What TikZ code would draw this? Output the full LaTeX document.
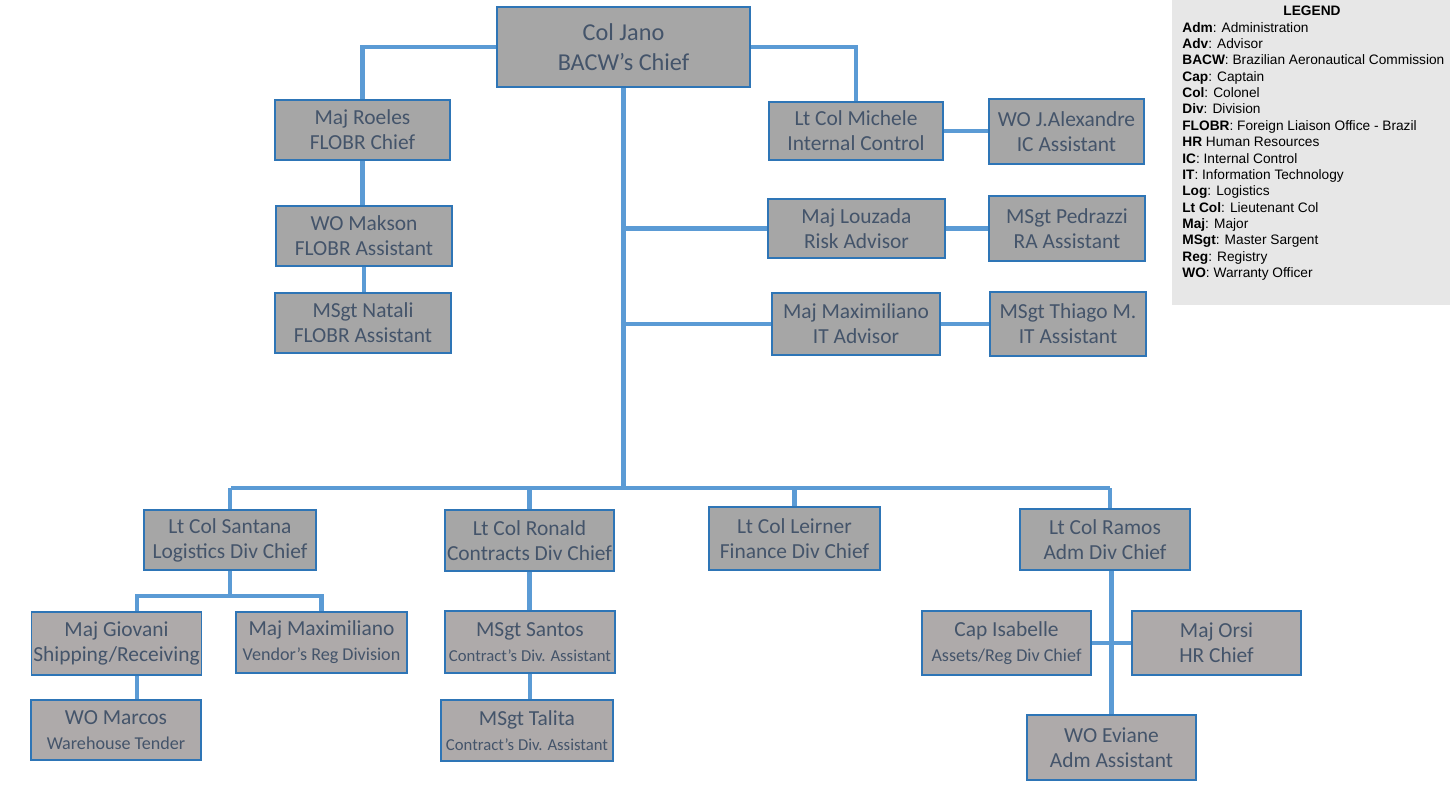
\documentclass[tikz,border=0pt]{standalone}
\usepackage{fontspec}
\setmainfont{Carlito}
\newfontfamily\legendfont{Liberation Sans}
\usetikzlibrary{
  positioning,
  calc,
  backgrounds
}
\definecolor{orgline}{HTML}{5B9BD5}
\definecolor{orgedge}{HTML}{2E75B6}
\definecolor{orgtext}{HTML}{44546A}
\definecolor{orgfill}{HTML}{A6A6A6}
\definecolor{orgfillb}{HTML}{AEAAAA}
\definecolor{legendbg}{HTML}{E7E7E7}
\newcommand{\subline}[2][10.3]{{\fontsize{#1}{12}\selectfont #2}}

\begin{document}
\begin{tikzpicture}[
      x=0.02cm, y=-0.02cm,
      box/.style={
        rectangle, draw=orgedge, line width=0.8pt, fill=orgfill,
        inner sep=1pt, align=center,
        font=\fontsize{12.2}{14.2}\selectfont\color{orgtext}
      },
      boxb/.style={box, fill=orgfillb},
      chief/.style={box, font=\fontsize{13.8}{17}\selectfont\color{orgtext}},
      link/.style={line width=2.8pt, orgline},
      legendtext/.style={font=\legendfont\fontsize{7.8}{9.3}\selectfont, align=left, inner sep=0pt}
    ]
      \useasboundingbox (0,0) rectangle (1450,794);

      % Top of the chart
      \node[chief, minimum width=253*0.02cm, minimum height=80*0.02cm] (jano) at (623.5,47) {Col Jano\\BACW’s Chief};

      % FLOBR branch
      \node[box, minimum width=175*0.02cm, minimum height=60*0.02cm] (roeles) at (362.5,130) {Maj Roeles\\FLOBR Chief};
      \node[box, minimum width=176*0.02cm, minimum height=60*0.02cm] (makson) at (364,236) {WO Makson\\FLOBR Assistant};
      \node[box, minimum width=176*0.02cm, minimum height=60*0.02cm] (natali) at (363,323) {MSgt Natali\\FLOBR Assistant};

      % Advisors on the right
      \node[box, minimum width=174*0.02cm, minimum height=58*0.02cm] (michele) at (856,131) {Lt Col Michele\\Internal Control};
      \node[box, minimum width=155*0.02cm, minimum height=65*0.02cm] (alexandre) at (1066.5,131.5) {WO J.Alexandre\\IC Assistant};
      \node[box, minimum width=177*0.02cm, minimum height=59*0.02cm] (louzada) at (856.5,228.5) {Maj Louzada\\Risk Advisor};
      \node[box, minimum width=156*0.02cm, minimum height=65*0.02cm] (pedrazzi) at (1067,228.5) {MSgt Pedrazzi\\RA Assistant};
      \node[box, minimum width=168*0.02cm, minimum height=62*0.02cm] (maxit) at (856,324) {Maj Maximiliano\\IT Advisor};
      \node[box, minimum width=156*0.02cm, minimum height=64*0.02cm] (thiago) at (1068,324) {MSgt Thiago M.\\IT Assistant};

      % Divisions
      \node[box, minimum width=172*0.02cm, minimum height=60*0.02cm] (santana) at (230,540) {Lt Col Santana\\Logistics Div Chief};
      \node[box, minimum width=169*0.02cm, minimum height=61*0.02cm] (ronald) at (529.5,540.5) {Lt Col Ronald\\Contracts Div Chief};
      \node[box, minimum width=171*0.02cm, minimum height=63*0.02cm] (leirner) at (794.5,538.5) {Lt Col Leirner\\Finance Div Chief};
      \node[box, minimum width=170*0.02cm, minimum height=61*0.02cm] (ramos) at (1105,539.5) {Lt Col Ramos\\Adm Div Chief};

      % Division staff
      \node[boxb, minimum width=169*0.02cm, minimum height=63*0.02cm] (giovani) at (116.5,643.5) {Maj Giovani\\Shipping/Receiving};
      \node[boxb, minimum width=171*0.02cm, minimum height=61*0.02cm] (maxvendor) at (321.5,642.5) {Maj Maximiliano\\\subline{Vendor’s Reg Division}};
      \node[boxb, minimum width=170*0.02cm, minimum height=60*0.02cm] (marcos) at (116,730) {WO Marcos\\\subline{Warehouse Tender}};
      \node[boxb, minimum width=170*0.02cm, minimum height=62*0.02cm] (santos) at (530,642) {MSgt Santos\\\subline[9.5]{Contract’s Div. Assistant}};
      \node[boxb, minimum width=172*0.02cm, minimum height=61*0.02cm] (talita) at (527,730.5) {MSgt Talita\\\subline[9.5]{Contract’s Div. Assistant}};
      \node[boxb, minimum width=169*0.02cm, minimum height=64*0.02cm] (isabelle) at (1006.5,643) {Cap Isabelle\\\subline{Assets/Reg Div Chief}};
      \node[boxb, minimum width=169*0.02cm, minimum height=64*0.02cm] (orsi) at (1216.5,643) {Maj Orsi\\HR Chief};
      \node[boxb, minimum width=169*0.02cm, minimum height=65*0.02cm] (eviane) at (1111.5,747.5) {WO Eviane\\Adm Assistant};

      % Bus lines
      \coordinate (busL) at (231,488);
      \coordinate (busR) at (1110,488);
      \coordinate (logbus) at (230,596);
      \coordinate (gx) at (137,596);

      % Connectors
      \begin{scope}[on background layer]
        \draw[link] (jano.west) -| (roeles.north);
        \draw[link] (jano.east) -| (michele.north);
        \draw[link] (jano.south) -- (jano.south |- busL);
        \draw[link] (louzada.west) -- (louzada.west -| jano.south);
        \draw[link] (maxit.west) -- (maxit.west -| jano.south);
        \draw[link] (busL) -- (busR);
        \draw[link] (santana.north) -- (santana.north |- busL);
        \draw[link] (ronald.north) -- (ronald.north |- busL);
        \draw[link] (leirner.north) -- (leirner.north |- busL);
        \draw[link] (ramos.north -| busR) -- (busR);
        \draw[link] (roeles.south) -- (roeles.south |- makson.north);
        \draw[link] (makson.south) -- (makson.south |- natali.north);
        \draw[link] (michele.east) -- (michele.east -| alexandre.west);
        \draw[link] (louzada.east) -- (louzada.east -| pedrazzi.west);
        \draw[link] (maxit.east) -- (maxit.east -| thiago.west);
        \draw[link] (santana.south) -- (logbus);
        \draw[link] (gx |- giovani.north) |- (logbus) -| (maxvendor.north);
        \draw[link] (gx |- giovani.south) -- (gx |- marcos.north);
        \draw[link] (ronald.south) -- (ronald.south |- santos.north);
        \draw[link] (santos.south) -- (santos.south |- talita.north);
        \draw[link] (eviane.north) -- (eviane.north |- ramos.south);
        \draw[link] (isabelle.east) -- (orsi.west);
      \end{scope}

      % Legend
      \node[fill=legendbg, minimum width=278*0.02cm, minimum height=305*0.02cm, anchor=north west, inner sep=0pt] (legend) at (1172,0) {};
      \node[legendtext, font=\legendfont\bfseries\fontsize{7.8}{9.3}\selectfont] (legendtitle) at (1312,11) {LEGEND};
      \node[legendtext, anchor=north west] (legendbody) at (1182,22) {%
        \textbf{Adm}: Administration\\
        \textbf{Adv}: Advisor\\
        \textbf{BACW}: Brazilian Aeronautical Commission\\
        \textbf{Cap}: Captain\\
        \textbf{Col}: Colonel\\
        \textbf{Div}: Division\\
        \textbf{FLOBR}: Foreign Liaison Office - Brazil\\
        \textbf{HR} Human Resources\\
        \textbf{IC}: Internal Control\\
        \textbf{IT}: Information Technology\\
        \textbf{Log}: Logistics\\
        \textbf{Lt Col}: Lieutenant Col\\
        \textbf{Maj}: Major\\
        \textbf{MSgt}: Master Sargent\\
        \textbf{Reg}: Registry\\
        \textbf{WO}: Warranty Officer};
    \end{tikzpicture}
\end{document}
